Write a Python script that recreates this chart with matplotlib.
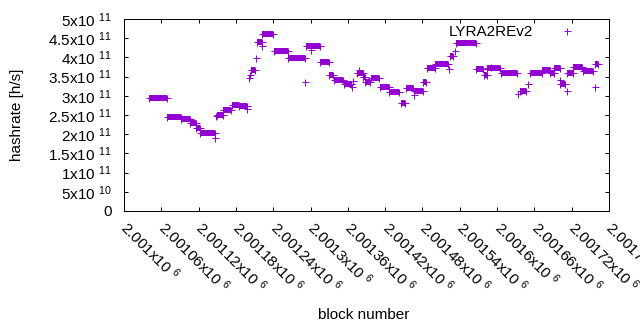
import matplotlib
matplotlib.use('Agg')
import matplotlib.pyplot as plt

plt.rcParams['font.family'] = ['Liberation Sans', 'DejaVu Sans']
plt.rcParams['mathtext.fontset'] = 'custom'
plt.rcParams['mathtext.rm'] = 'Liberation Sans'
plt.rcParams['mathtext.it'] = 'Liberation Sans'

# plateaus: runs of blocks with the same hashrate (start block, end block, hashrate in GH/s)
plateau_start = [2005070, 2007870, 2010120, 2011610, 2012580, 2013300, 2015910, 2016920,
                 2018290, 2019490, 2021380, 2022310, 2023270, 2025120, 2027420, 2030320,
                 2032520, 2034020, 2034770, 2036380, 2038470, 2039440, 2039800, 2040670,
                 2042220, 2043570, 2045470, 2046430, 2047560, 2049080, 2049680, 2051020,
                 2053430, 2054390, 2057660, 2058900, 2059430, 2061580, 2064640, 2066290,
                 2068220, 2069510, 2070150, 2071040, 2072320, 2073290, 2074740, 2076750]
plateau_end = [2007870, 2010120, 2011610, 2012500, 2013300, 2015640, 2016920, 2018130,
               2019490, 2020730, 2022070, 2023150, 2025010, 2027330, 2030060, 2032470,
               2033920, 2034610, 2036220, 2037430, 2039440, 2039760, 2040640, 2042060,
               2043570, 2045270, 2046190, 2047480, 2049040, 2049520, 2051020, 2053150,
               2053960, 2057560, 2058690, 2059330, 2061470, 2064250, 2065730, 2068220,
               2069510, 2070150, 2071040, 2071920, 2073210, 2074660, 2076470, 2077280]
plateau_rate = [293.5, 244.8, 238.8, 228.4, 215.4, 202.3, 250.0, 263.0,
                276.5, 274.2, 367.2, 441.4, 460.1, 415.9, 397.6, 428.4,
                387.2, 354.1, 340.3, 329.9, 358.6, 349.7, 336.7, 345.6,
                322.1, 309.1, 280.5, 319.5, 313.3, 336.7, 371.6, 382.0,
                403.6, 436.7, 369.8, 354.1, 371.6, 358.6, 313.8, 358.6,
                367.2, 360.1, 373.2, 330.7, 358.6, 375.8, 364.6, 382.0]

# single samples away from the plateaus
point_block = [2015640, 2015720, 2020830, 2021180, 2021260, 2022180, 2023150, 2030160,
               2031070, 2037590, 2037830, 2038870, 2047640, 2053270, 2054230, 2064440,
               2066020, 2071120, 2072200, 2076670, 2059990]
point_rate = [189.3, 246.1, 264.8, 347.6, 354.1, 397.6, 428.4, 335.1,
              419.2, 323.7, 338.5, 367.2, 300.8, 369.0, 417.4, 303.9,
              330.7, 341.1, 312.5, 323.7, 376.0]

xticks = [2001000 + 6000 * i for i in range(14)]
xtick_labels = ['2.001', '2.00106', '2.00112', '2.00118', '2.00124', '2.0013', '2.00136',
                '2.00142', '2.00148', '2.00154', '2.0016', '2.00166', '2.00172', '2.00178']
yticks = [0.5e11 * i for i in range(11)]
ytick_labels = ['0', '5x10 $^{\\mathrm{10}}$', '1x10 $^{\\mathrm{11}}$', '1.5x10 $^{\\mathrm{11}}$',
                '2x10 $^{\\mathrm{11}}$', '2.5x10 $^{\\mathrm{11}}$', '3x10 $^{\\mathrm{11}}$',
                '3.5x10 $^{\\mathrm{11}}$', '4x10 $^{\\mathrm{11}}$', '4.5x10 $^{\\mathrm{11}}$',
                '5x10 $^{\\mathrm{11}}$']

color = '#9400d3'
px = 72 / 100  # one pixel in points
fs = 11

fig = plt.figure(figsize=(6.4, 3.3), dpi=100)
ax = fig.add_axes([124 / 640, 1 - 211 / 330, 485 / 640, 192 / 330])

for s, e, r in zip(plateau_start, plateau_end, plateau_rate):
    ax.plot([s, e], [r * 1e9, r * 1e9], color=color, lw=6 * px, solid_capstyle='butt',
            marker='+', ms=7 * px, mew=1 * px)

ax.plot(point_block, [r * 1e9 for r in point_rate], '+', color=color, ms=7 * px,
        mew=1 * px, label='LYRA2REv2')

ax.set_xlim(2001000, 2079000)
ax.set_ylim(0, 5e11)
ax.set_xticks(xticks)
ax.set_xticklabels([l + 'x10 $^{\\mathrm{6}}$' for l in xtick_labels], rotation=-45,
                   ha='left', va='center', rotation_mode='anchor')
ax.set_yticks(yticks)
ax.set_yticklabels(ytick_labels)

ax.tick_params(direction='in', length=3, width=1 * px, top=True, right=True,
               labelsize=fs, colors='black')
ax.tick_params(axis='y', pad=9)
ax.tick_params(axis='x', pad=10)
for sp in ax.spines.values():
    sp.set_linewidth(1 * px)

ax.set_xlabel('block number', fontsize=fs)
ax.set_ylabel('hashrate [h/s]', fontsize=fs)
ax.xaxis.set_label_coords((364 - 124) / 485, (211 - 308) / 192)
ax.yaxis.set_label_coords((24 - 124) / 485, (211 - 115) / 192)

ax.legend(loc='center right', bbox_to_anchor=(0.945, 0.932), frameon=False,
          markerfirst=False, borderpad=0, borderaxespad=0, handlelength=2,
          handletextpad=1.2, fontsize=fs)

fig.savefig('out.png', dpi=100)
